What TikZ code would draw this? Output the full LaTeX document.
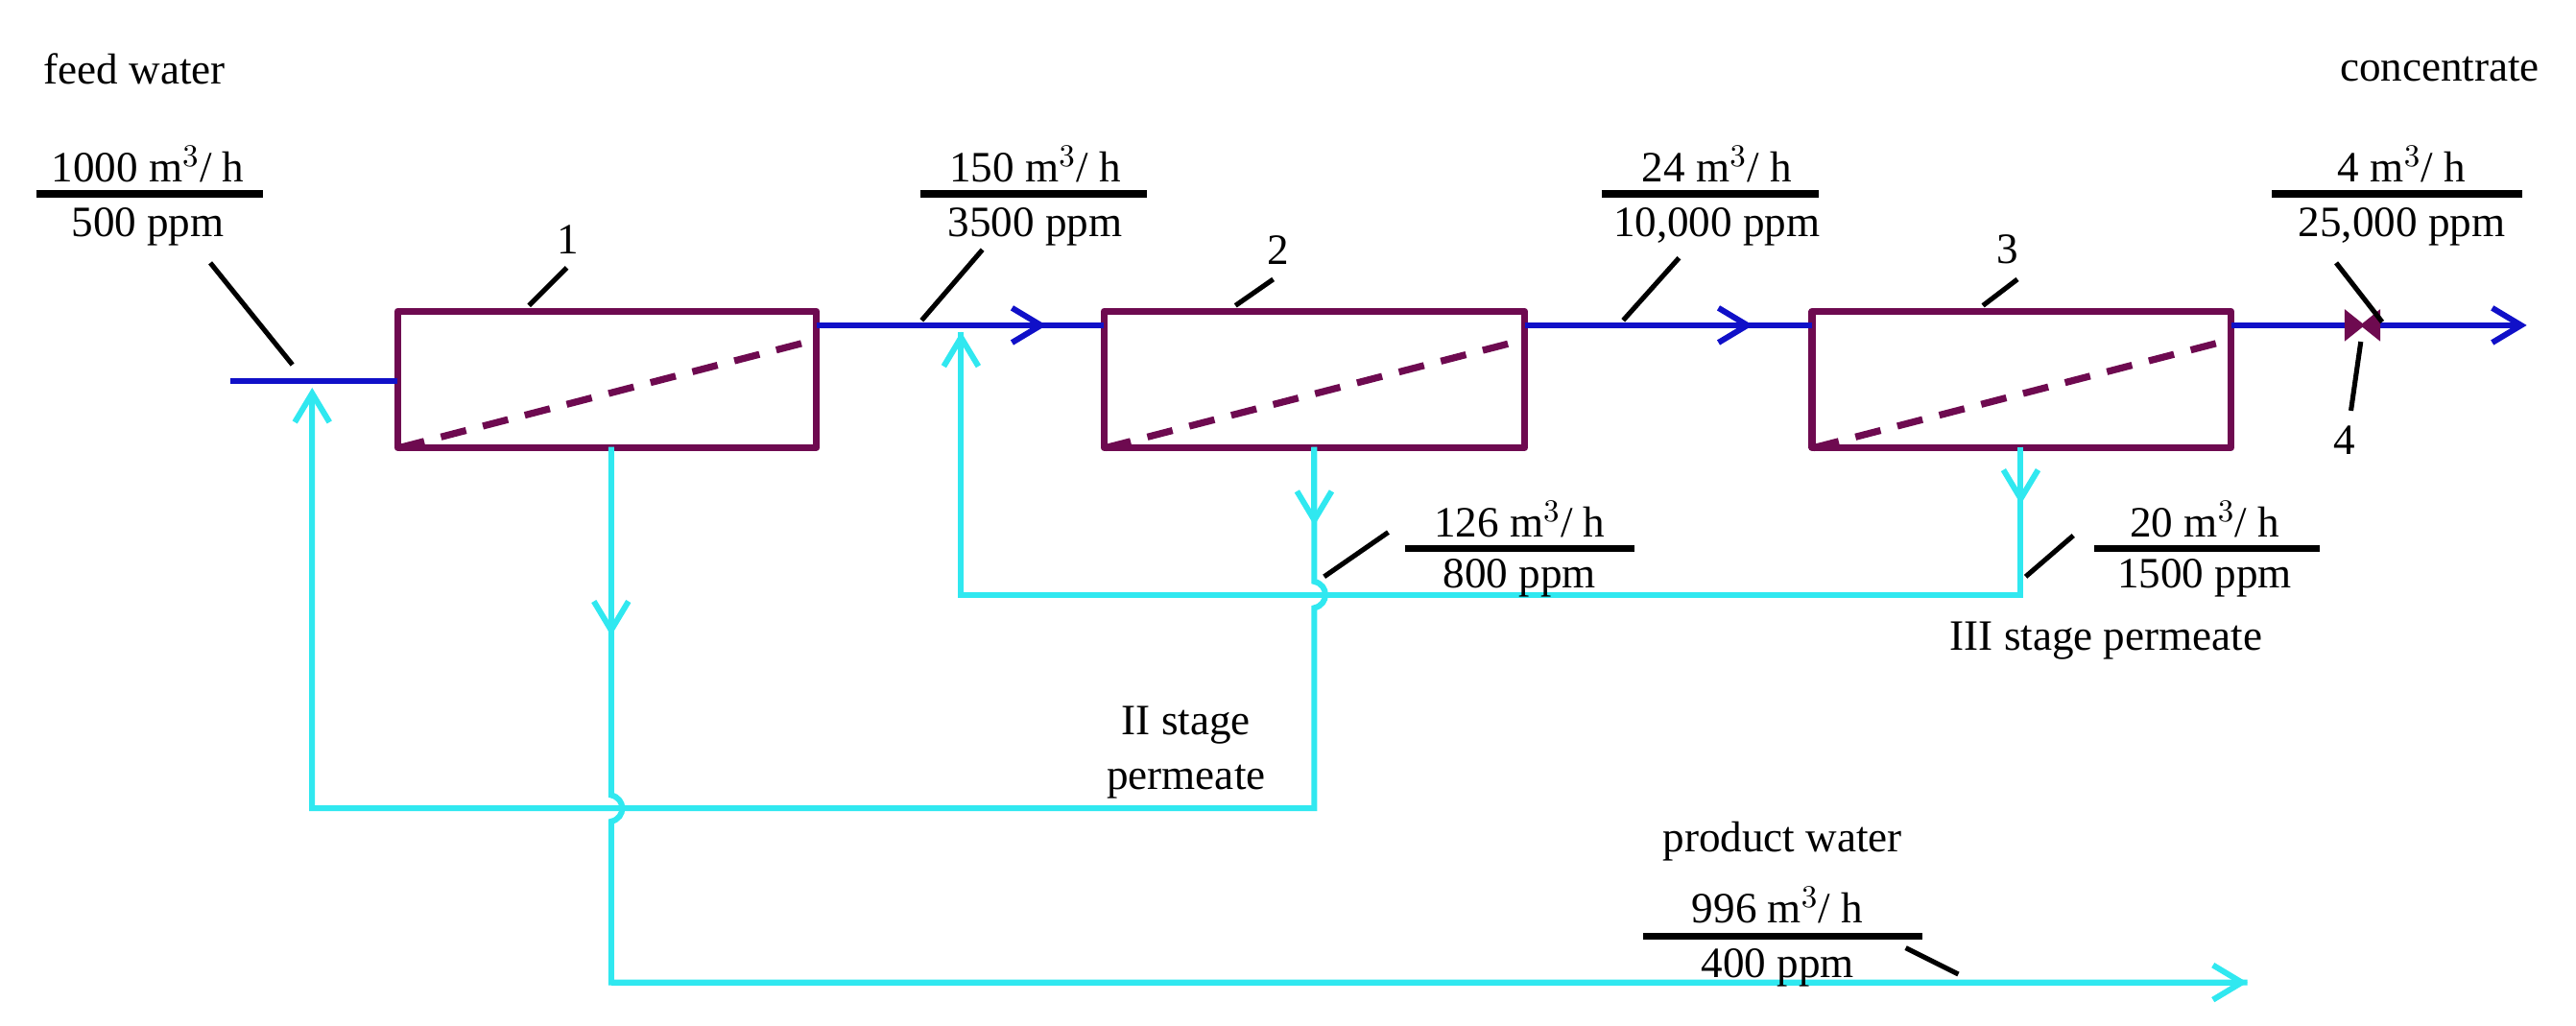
\documentclass[tikz,border=0pt]{standalone}
\usepackage{fontspec}
\setmainfont{Liberation Serif}
\usetikzlibrary{arrows.meta,calc}
\definecolor{pblue}{HTML}{1010C8}
\definecolor{pcyan}{HTML}{30E8F0}
\definecolor{ppurp}{HTML}{6E0A50}
\tikzset{
  mod/.style={draw=ppurp,line width=2.4pt,line join=round},
  memb/.style={draw=ppurp,line width=2.4pt,dash pattern=on 9pt off 6pt},
  bl/.style={draw=pblue,line width=2pt},
  cy/.style={draw=pcyan,line width=2pt},
  tipb/.style={-{Straight Barb[length=10pt,width=12pt,line width=2pt]}},
  lead/.style={draw=black,line width=1.7pt},
  bar/.style={draw=black,line width=2.4pt},
  txt/.style={font=\fontsize{15}{17}\selectfont,inner sep=0pt},
}
\begin{document}
\begin{tikzpicture}[x=0.02cm,y=-0.02cm]
\useasboundingbox (0,0) rectangle (1568,624);
% modules
\foreach \n/\xa/\xb in {1/242/497,2/672/928,3/1103/1358}{
  \node[mod,minimum width={(\xb-\xa)*0.02cm},minimum height=1.66cm,inner sep=0pt] (m\n) at ({(\xa+\xb)/2},231) {};
  \draw[memb] ($(m\n.south west)+(3,-2)$) -- ($(m\n.north east)+(-1,19)$);
}
% coordinates
\coordinate (fin) at (140,232);
\coordinate (cend) at (1538,198);
% blue lines
\draw[bl] (fin) -- (242,232);
\draw[bl] (497,198) -- (672,198);
\draw[bl,tipb] (497,198) -- (637,198);
\draw[bl] (928,198) -- (1103,198);
\draw[bl,tipb] (928,198) -- (1067,198);
\draw[bl] (1358,198) -- (1428,198);
\draw[bl,tipb] (1448,198) -- (cend);
% valve
\filldraw[ppurp,line width=1pt] (1428,190) -- (1428,206) -- (1448,190) -- (1448,206) -- cycle;
% cyan: stage 1 permeate -> product
\draw[cy] (372,272) -- (372,484) .. controls (381,486) and (381,498) .. (372,500) -- (372,598) -- (1368,598);
\draw[cy,tipb] (372,272) -- (372,387);
\draw[cy,tipb] (372,598) -- (1368,598);
% stage 2 permeate -> feed
\draw[cy] (800,272) -- (800,354) .. controls (809,356) and (809,368) .. (800,370) -- (800,492) -- (190,492) -- (190,240);
\draw[cy,tipb] (800,272) -- (800,320);
\draw[cy,tipb] (190,492) -- (190,236);
% stage 3 permeate -> stage 2 feed
\draw[cy] (1230,272) -- (1230,362) -- (585,362) -- (585,202);
\draw[cy,tipb] (1230,272) -- (1230,307);
\draw[cy,tipb] (585,362) -- (585,202);
% labels
\node[txt] (lfw) at (82,42) {feed water};
\node[txt] (lcc) at (1485,42) {concentrate};
\node[txt] (f1a) at (90,100) {1000 m$^3$/ h};
\draw[bar] (22,118) -- (160,118);
\node[txt] (f1b) at (90,138) {500 ppm};
\draw[lead] (128,160) -- (178,222);
\node[txt] (f2a) at (630,100) {150 m$^3$/ h};
\draw[bar] (560,118) -- (698,118);
\node[txt] (f2b) at (630,138) {3500 ppm};
\draw[lead] (561,195) -- (598,152);
\node[txt] (f3a) at (1045,100) {24 m$^3$/ h};
\draw[bar] (975,118) -- (1107,118);
\node[txt] (f3b) at (1045,138) {10,000 ppm};
\draw[lead] (988,195) -- (1022,157);
\node[txt] (f4a) at (1462,100) {4 m$^3$/ h};
\draw[bar] (1383,118) -- (1535,118);
\node[txt] (f4b) at (1462,138) {25,000 ppm};
\draw[lead] (1450,196) -- (1422,160);
\node[txt] (n1) at (346,146) {1};
\draw[lead] (322,186) -- (345,163);
\node[txt] (n2) at (778,152) {2};
\draw[lead] (752,186) -- (775,170);
\node[txt] (n3) at (1222,152) {3};
\draw[lead] (1207,186) -- (1228,170);
\node[txt] (n4) at (1427,268) {4};
\draw[lead] (1437,208) -- (1431,250);
\node[txt] (f5a) at (925,316) {126 m$^3$/ h};
\draw[bar] (855,334) -- (995,334);
\node[txt] (f5b) at (925,352) {800 ppm};
\draw[lead] (806,351) -- (845,324);
\node[txt] (f6a) at (1342,316) {20 m$^3$/ h};
\draw[bar] (1275,334) -- (1412,334);
\node[txt] (f6b) at (1342,352) {1500 ppm};
\draw[lead] (1233,351) -- (1262,326);
\node[txt] (l3) at (1282,390) {III stage permeate};
\node[txt,align=center] (l2) at (722,458) {II stage\\[2pt]permeate};
\node[txt] (lpw) at (1085,512) {product water};
\node[txt] (f7a) at (1082,551) {996 m$^3$/ h};
\draw[bar] (1000,570) -- (1170,570);
\node[txt] (f7b) at (1082,589) {400 ppm};
\draw[lead] (1160,577) -- (1192,593);
\end{tikzpicture}
\end{document}
